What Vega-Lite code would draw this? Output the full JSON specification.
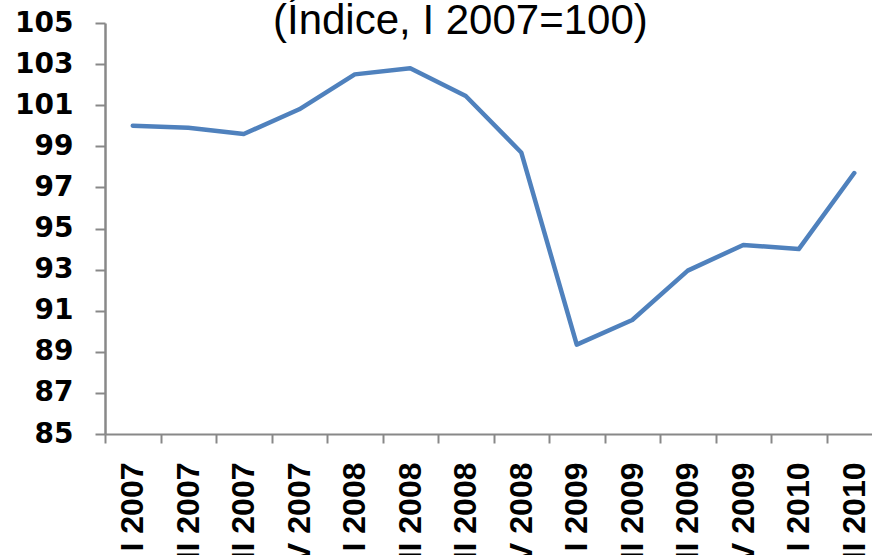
{
  "$schema": "https://vega.github.io/schema/vega-lite/v6.json",
  "autosize": "none",
  "width": 777,
  "height": 411,
  "padding": {"left": 105, "top": 23, "right": 0, "bottom": 121},
  "background": "white",
  "title": {
    "text": "(Índice, I 2007=100)",
    "anchor": "start",
    "frame": "group",
    "orient": "top",
    "dx": 168,
    "dy": 34,
    "offset": 0,
    "baseline": "top",
    "font": "Liberation Sans",
    "fontSize": 42,
    "fontWeight": "normal",
    "color": "black"
  },
  "data": {
    "values": [
      {"periodo": "I 2007", "indice": 100.0},
      {"periodo": "II 2007", "indice": 99.9},
      {"periodo": "III 2007", "indice": 99.6},
      {"periodo": "IV 2007", "indice": 100.8},
      {"periodo": "I 2008", "indice": 102.5},
      {"periodo": "II 2008", "indice": 102.8},
      {"periodo": "III 2008", "indice": 101.45},
      {"periodo": "IV 2008", "indice": 98.7},
      {"periodo": "I 2009", "indice": 89.35},
      {"periodo": "II 2009", "indice": 90.55},
      {"periodo": "III 2009", "indice": 92.95},
      {"periodo": "IV 2009", "indice": 94.2},
      {"periodo": "I 2010", "indice": 94.0},
      {"periodo": "II 2010", "indice": 97.7}
    ]
  },
  "config": {"view": {"stroke": null}},
  "mark": {"type": "line", "color": "#4F81BD", "strokeWidth": 4.5, "strokeJoin": "round", "strokeCap": "round"},
  "encoding": {
    "x": {
      "field": "periodo",
      "type": "ordinal",
      "sort": null,
      "scale": {"paddingInner": 0, "paddingOuter": 0},
      "axis": {
        "title": null,
        "labelAngle": -90,
        "labelFont": "Liberation Sans",
        "labelFontWeight": "bold",
        "labelFontSize": 32,
        "labelColor": "black",
        "labelPadding": 19,
        "labelOverlap": false,
        "labelBound": false,
        "labelFlush": false,
        "tickBand": "extent",
        "tickSize": 9,
        "tickColor": "#888888",
        "tickWidth": 2,
        "domainColor": "#888888",
        "domainWidth": 2
      }
    },
    "y": {
      "field": "indice",
      "type": "quantitative",
      "scale": {"domain": [85, 105], "nice": false, "zero": false},
      "axis": {
        "title": null,
        "values": [85, 87, 89, 91, 93, 95, 97, 99, 101, 103, 105],
        "grid": false,
        "labelFont": "DejaVu Sans",
        "labelFontWeight": "bold",
        "labelFontSize": 28,
        "labelColor": "black",
        "labelPadding": 22,
        "labelFlush": false,
        "tickSize": 10,
        "tickColor": "#888888",
        "tickWidth": 2,
        "domainColor": "#888888",
        "domainWidth": 2.5
      }
    }
  }
}
